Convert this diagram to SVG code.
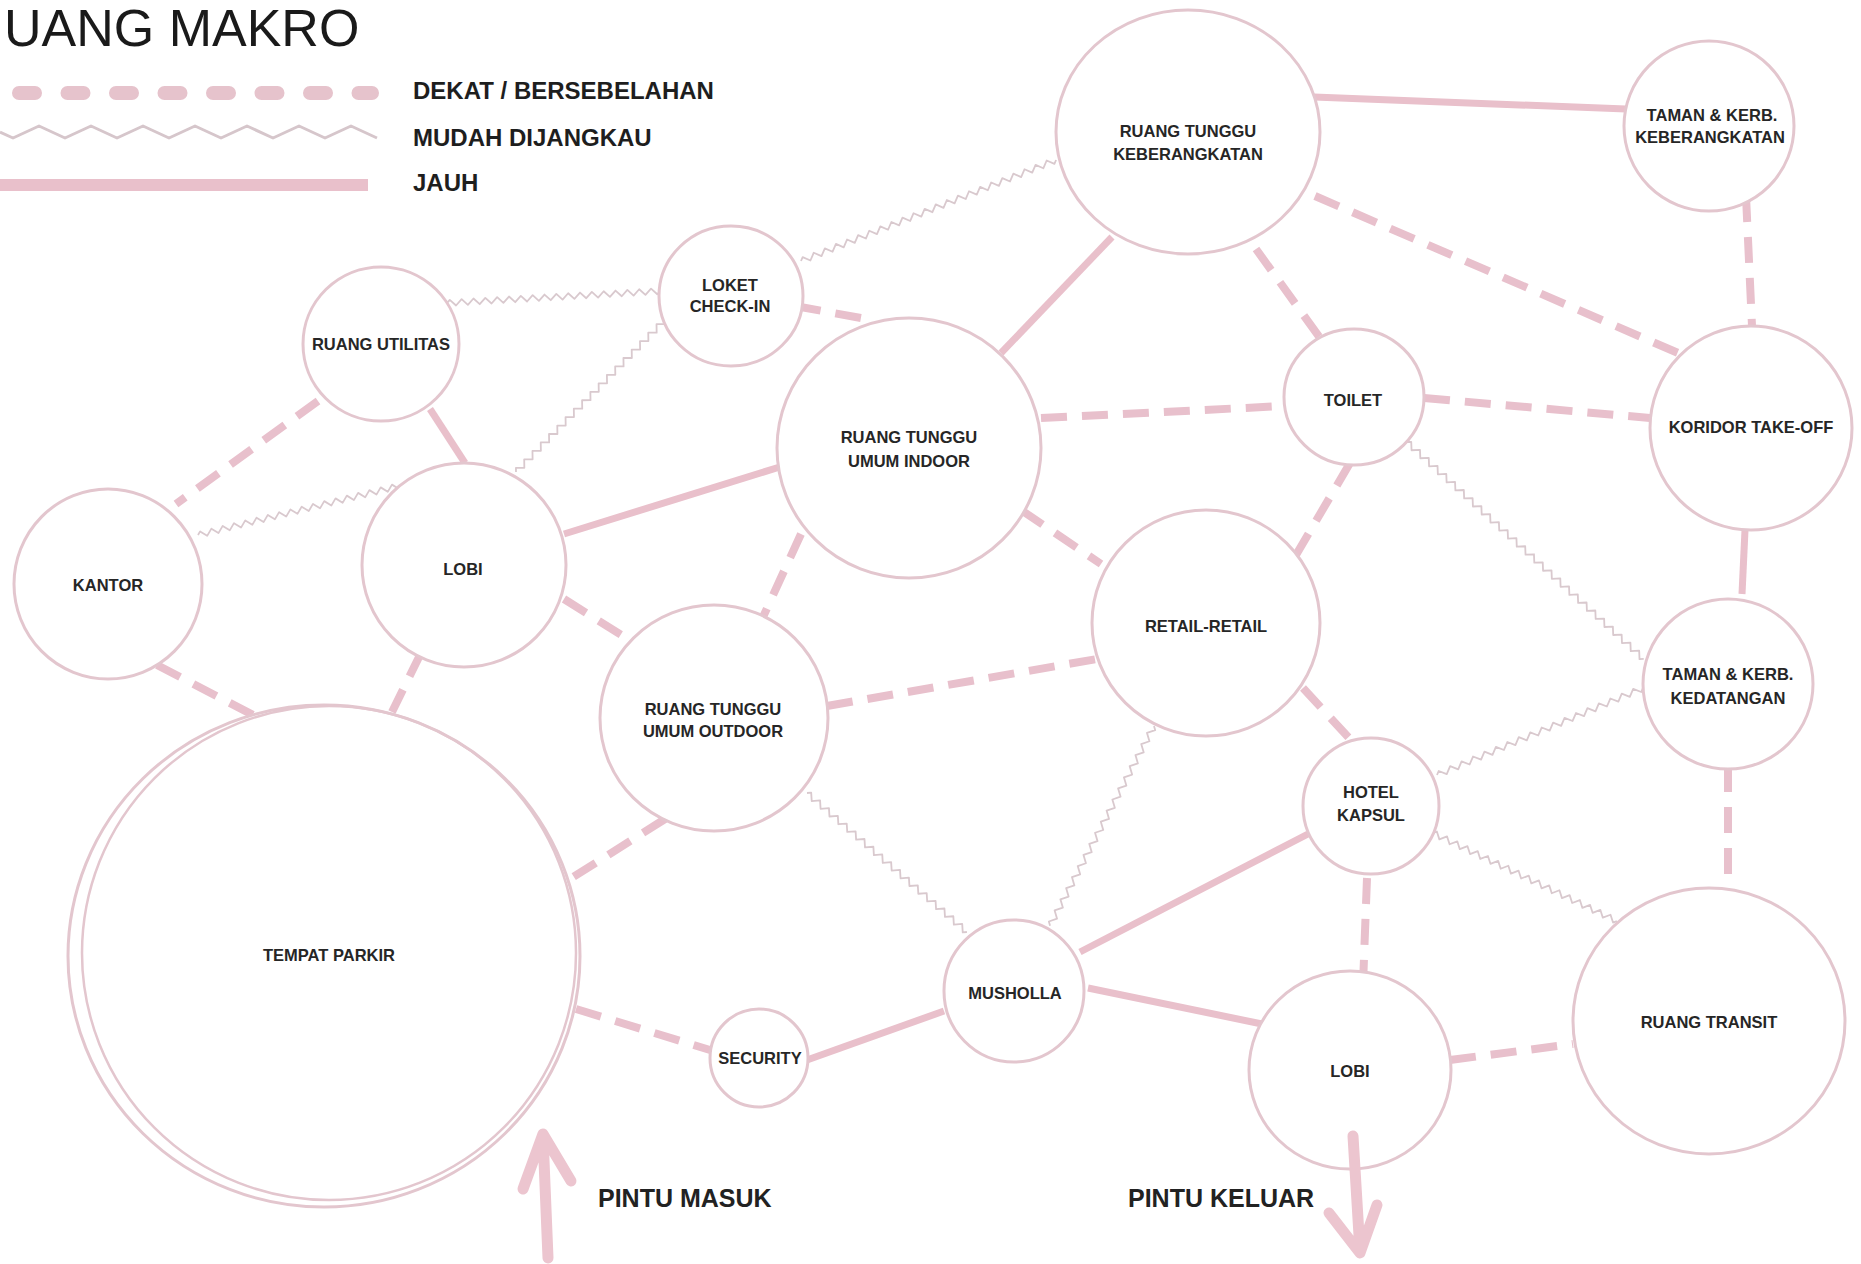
<svg xmlns="http://www.w3.org/2000/svg" xmlns:xlink="http://www.w3.org/1999/xlink" width="1861" height="1264" viewBox="0 0 1861 1264">
<style>
  .bg { fill: #ffffff; }
  .node { fill: #ffffff; stroke: #e3c6ce; stroke-width: 3; }
  .lbl { font-family: "Liberation Sans", Arial, sans-serif; font-weight: bold; font-size: 16.5px; fill: #262626; text-anchor: middle; }
  .far { stroke: #e9c0cb; stroke-width: 7; stroke-linecap: butt; fill: none; }
  .near { stroke: #e8c0cc; stroke-width: 8; stroke-dasharray: 26 15; fill: none; }
  .zig { stroke: #d9c9ce; stroke-width: 1.8; fill: none; stroke-linejoin: round; }
  .leg { font-family: "Liberation Sans", Arial, sans-serif; font-weight: bold; font-size: 24px; fill: #1e1e1e; }
  .door { font-family: "Liberation Sans", Arial, sans-serif; font-weight: bold; font-size: 25px; fill: #222222; }
  .arrow { stroke: #ecc5cf; stroke-width: 11; stroke-linecap: round; stroke-linejoin: round; fill: none; }
</style>
<defs>
  <path id="zA" vector-effect="non-scaling-stroke" d="M0,0 l3,-3 6,6 6,-6 6,6 6,-6 6,6 6,-6 6,6 6,-6 6,6 6,-6 6,6 6,-6 6,6 6,-6 6,6 6,-6 6,6 6,-6 6,6 6,-6 6,6 6,-6 6,6 6,-6 6,6 6,-6 6,6 6,-6 6,6 6,-6 6,6 6,-6 6,6 6,-6 6,6 3,-3"/>
  <path id="zB" vector-effect="non-scaling-stroke" d="M0,0 l3,-3 6,6 6,-6 6,6 6,-6 6,6 6,-6 6,6 6,-6 6,6 6,-6 6,6 6,-6 6,6 6,-6 6,6 6,-6 6,6 6,-6 6,6 6,-6 6,6 6,-6 6,6 6,-6 6,6 6,-6 6,6 6,-6 6,6 6,-6 6,6 6,-6 6,6 6,-6 6,6 6,-6 6,6 6,-6 6,6 6,-6 6,6 6,-6 6,6 6,-6 6,6 3,-3"/>
  <path id="zC" vector-effect="non-scaling-stroke" d="M0,0 l3,-3 6,6 6,-6 6,6 6,-6 6,6 6,-6 6,6 6,-6 6,6 6,-6 6,6 6,-6 6,6 6,-6 6,6 6,-6 6,6 6,-6 6,6 6,-6 6,6 6,-6 6,6 6,-6 6,6 6,-6 6,6 6,-6 6,6 6,-6 6,6 6,-6 6,6 6,-6 6,6 6,-6 6,6 6,-6 6,6 6,-6 6,6 6,-6 6,6 6,-6 6,6 6,-6 6,6 6,-6 6,6 6,-6 6,6 6,-6 6,6 3,-3"/>
</defs>
<rect class="bg" x="0" y="0" width="1861" height="1264"/>

<g id="title">
  <text x="4" y="46" font-family="Liberation Sans, Arial, sans-serif" font-size="52" fill="#1a1a1a">UANG MAKRO</text>
</g>

<g id="legend">
  <line x1="19" y1="93" x2="372" y2="93" stroke="#e6c3cc" stroke-width="14" stroke-linecap="round" stroke-dasharray="16 32.5"/>
  <path d="M0,132 l13,6 26,-12 26,12 26,-12 26,12 26,-12 26,12 26,-12 26,12 26,-12 26,12 26,-12 26,12 26,-12 26,12" fill="none" stroke="#d6c6cb" stroke-width="3" stroke-linejoin="round"/>
  <line x1="0" y1="185" x2="368" y2="185" stroke="#e9c0cb" stroke-width="12"/>
  <text class="leg" x="413" y="99">DEKAT / BERSEBELAHAN</text>
  <text class="leg" x="413" y="146">MUDAH DIJANGKAU</text>
  <text class="leg" x="413" y="191">JAUH</text>
</g>

<g id="connectors">
  <!-- JAUH (solid) -->
  <line class="far" x1="1314" y1="97" x2="1626" y2="109"/>
  <line class="far" x1="1112" y1="237" x2="1001" y2="353"/>
  <line class="far" x1="564" y1="534" x2="783" y2="466"/>
  <line class="far" x1="430" y1="409" x2="465" y2="463"/>
  <line class="far" x1="1745" y1="530" x2="1742" y2="594"/>
  <line class="far" x1="807" y1="1060" x2="944" y2="1011"/>
  <line class="far" x1="1080" y1="952" x2="1308" y2="834"/>
  <line class="far" x1="1088" y1="988" x2="1262" y2="1024"/>
  <!-- DEKAT (dashed) -->
  <line class="near" x1="1256" y1="249" x2="1320" y2="338"/>
  <line class="near" x1="1315" y1="196" x2="1685" y2="356"/>
  <line class="near" x1="1746" y1="196" x2="1752" y2="326"/>
  <line class="near" x1="795" y1="306" x2="872" y2="320"/>
  <line class="near" x1="1041" y1="418" x2="1284" y2="406"/>
  <line class="near" x1="1424" y1="398" x2="1650" y2="418"/>
  <line class="near" x1="1350" y1="463" x2="1296" y2="555"/>
  <line class="near" x1="1021" y1="510" x2="1101" y2="564"/>
  <line class="near" x1="801" y1="534" x2="763" y2="617"/>
  <line class="near" x1="564" y1="599" x2="631" y2="641"/>
  <line class="near" x1="827" y1="706" x2="1097" y2="659"/>
  <line class="near" x1="318" y1="401" x2="176" y2="504"/>
  <line class="near" x1="157" y1="665" x2="255" y2="716"/>
  <line class="near" x1="421" y1="653" x2="392" y2="712"/>
  <line class="near" x1="665" y1="819" x2="567" y2="881"/>
  <line class="near" x1="576" y1="1009" x2="710" y2="1050"/>
  <line class="near" x1="1303" y1="688" x2="1349" y2="738"/>
  <line class="near" x1="1367" y1="878" x2="1363" y2="985"/>
  <line class="near" x1="1728" y1="766" x2="1728" y2="888"/>
  <line class="near" x1="1450" y1="1060" x2="1573" y2="1044"/>
  <!-- MUDAH DIJANGKAU (zigzag) -->
  <use class="zig" xlink:href="#zB" href="#zB" transform="translate(801,261) rotate(-21.6) scale(0.994,1)"/>
  <use class="zig" xlink:href="#zA" href="#zA" transform="translate(447,303) rotate(-3.2) scale(0.988,1)"/>
  <use class="zig" xlink:href="#zA" href="#zA" transform="translate(516,472) rotate(-45.6) scale(0.985,1)"/>
  <use class="zig" xlink:href="#zA" href="#zA" transform="translate(198,535) rotate(-13.7) scale(0.968,1)"/>
  <use class="zig" xlink:href="#zC" href="#zC" transform="translate(1407,442) rotate(42.5) scale(0.991,1)"/>
  <use class="zig" xlink:href="#zA" href="#zA" transform="translate(1437,775) rotate(-22.9) scale(1.035,1)"/>
  <use class="zig" xlink:href="#zA" href="#zA" transform="translate(1433,833) rotate(25.6) scale(0.944,1)"/>
  <use class="zig" xlink:href="#zA" href="#zA" transform="translate(807,793) rotate(41) scale(0.981,1)"/>
  <use class="zig" xlink:href="#zA" href="#zA" transform="translate(1154,726) rotate(117.5) scale(1.042,1)"/>
</g>

<g id="node-keberangkatan">
  <ellipse class="node" cx="1188" cy="132" rx="132" ry="122"/>
  <text class="lbl" x="1188" y="137">RUANG TUNGGU</text>
  <text class="lbl" x="1188" y="160">KEBERANGKATAN</text>
</g>
<g id="node-taman-keberangkatan">
  <ellipse class="node" cx="1709" cy="126" rx="85" ry="85"/>
  <text class="lbl" x="1712" y="121">TAMAN &amp; KERB.</text>
  <text class="lbl" x="1710" y="143">KEBERANGKATAN</text>
</g>
<g id="node-loket">
  <ellipse class="node" cx="731" cy="296" rx="72" ry="70"/>
  <text class="lbl" x="730" y="291">LOKET</text>
  <text class="lbl" x="730" y="312">CHECK-IN</text>
</g>
<g id="node-utilitas">
  <ellipse class="node" cx="381" cy="344" rx="78" ry="77"/>
  <text class="lbl" x="381" y="350">RUANG UTILITAS</text>
</g>
<g id="node-indoor">
  <ellipse class="node" cx="909" cy="448" rx="132" ry="130"/>
  <text class="lbl" x="909" y="443">RUANG TUNGGU</text>
  <text class="lbl" x="909" y="467">UMUM INDOOR</text>
</g>
<g id="node-toilet">
  <ellipse class="node" cx="1354" cy="397" rx="70" ry="68"/>
  <text class="lbl" x="1353" y="406">TOILET</text>
</g>
<g id="node-koridor">
  <ellipse class="node" cx="1751" cy="428" rx="101" ry="102"/>
  <text class="lbl" x="1751" y="433">KORIDOR TAKE-OFF</text>
</g>
<g id="node-kantor">
  <ellipse class="node" cx="108" cy="584" rx="94" ry="95"/>
  <text class="lbl" x="108" y="591">KANTOR</text>
</g>
<g id="node-lobi-masuk">
  <ellipse class="node" cx="464" cy="565" rx="102" ry="102"/>
  <text class="lbl" x="463" y="575">LOBI</text>
</g>
<g id="node-retail">
  <ellipse class="node" cx="1206" cy="623" rx="114" ry="113"/>
  <text class="lbl" x="1206" y="632">RETAIL-RETAIL</text>
</g>
<g id="node-outdoor">
  <ellipse class="node" cx="714" cy="718" rx="114" ry="113"/>
  <text class="lbl" x="713" y="715">RUANG TUNGGU</text>
  <text class="lbl" x="713" y="737">UMUM OUTDOOR</text>
</g>
<g id="node-taman-kedatangan">
  <ellipse class="node" cx="1728" cy="684" rx="85" ry="85"/>
  <text class="lbl" x="1728" y="680">TAMAN &amp; KERB.</text>
  <text class="lbl" x="1728" y="704">KEDATANGAN</text>
</g>
<g id="node-hotel">
  <ellipse class="node" cx="1371" cy="806" rx="68" ry="68"/>
  <text class="lbl" x="1371" y="798">HOTEL</text>
  <text class="lbl" x="1371" y="821">KAPSUL</text>
</g>
<g id="node-parkir">
  <ellipse class="node" cx="324" cy="956" rx="256" ry="251" stroke-width="2.5"/>
  <ellipse cx="329" cy="953" rx="247" ry="247" fill="none" stroke="#e3c6ce" stroke-width="2.5"/>
  <text class="lbl" x="329" y="961">TEMPAT PARKIR</text>
</g>
<g id="node-musholla">
  <ellipse class="node" cx="1014" cy="991" rx="70" ry="71"/>
  <text class="lbl" x="1015" y="999">MUSHOLLA</text>
</g>
<g id="node-security">
  <ellipse class="node" cx="759" cy="1058" rx="49" ry="49"/>
  <text class="lbl" x="760" y="1064">SECURITY</text>
</g>
<g id="node-lobi-keluar">
  <ellipse class="node" cx="1350" cy="1070" rx="101" ry="99"/>
  <text class="lbl" x="1350" y="1077">LOBI</text>
</g>
<g id="node-transit">
  <ellipse class="node" cx="1709" cy="1021" rx="136" ry="133"/>
  <text class="lbl" x="1709" y="1028">RUANG TRANSIT</text>
</g>

<g id="entrance">
  <path class="arrow" d="M548,1258 L543,1136 M523,1189 L543,1134 L571,1181"/>
  <text class="door" x="598" y="1207">PINTU MASUK</text>
</g>
<g id="exit">
  <path class="arrow" d="M1353,1136 L1360,1252 M1329,1213 L1360,1253 L1377,1205"/>
  <text class="door" x="1128" y="1207">PINTU KELUAR</text>
</g>
</svg>
